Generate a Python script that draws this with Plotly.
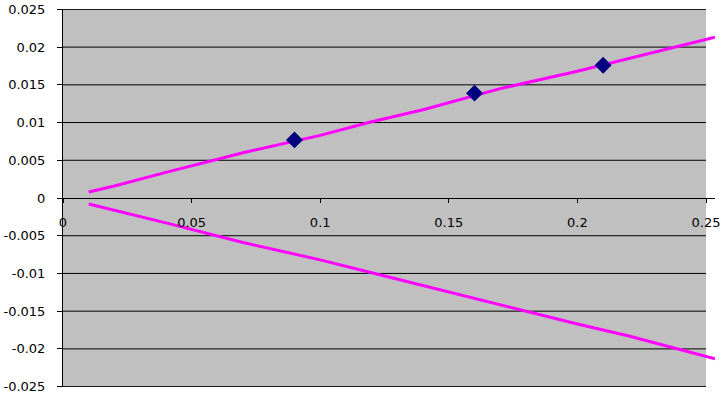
import plotly.graph_objects as go

# Data
band_x = [0.01, 0.02, 0.04, 0.07, 0.10, 0.12, 0.14, 0.17, 0.20, 0.22, 0.2535]
upper_y = [0.0008, 0.0016, 0.0034, 0.0060, 0.0083, 0.0101, 0.0117, 0.0145, 0.0168, 0.0185, 0.0213]
lower_y = [-0.0008, -0.0016, -0.0033, -0.0059, -0.0082, -0.0099, -0.0116, -0.0142, -0.0167, -0.0183, -0.0213]
point_x = [0.09, 0.16, 0.21]
point_y = [0.0077, 0.0139, 0.0176]
x_ticks = [0, 0.05, 0.1, 0.15, 0.2, 0.25]
x_tick_labels = ["0", "0.05", "0.1", "0.15", "0.2", "0.25"]
y_ticks = [0.025, 0.02, 0.015, 0.01, 0.005, 0, -0.005, -0.01, -0.015, -0.02, -0.025]
y_tick_labels = ["0.025", "0.02", "0.015", "0.01", "0.005", "0", "-0.005", "-0.01", "-0.015", "-0.02", "-0.025"]

fig = go.Figure()
fig.add_trace(go.Scatter(x=band_x, y=upper_y, mode="lines",
                         line=dict(color="#FF00FF", width=3), showlegend=False))
fig.add_trace(go.Scatter(x=band_x, y=lower_y, mode="lines",
                         line=dict(color="#FF00FF", width=3), showlegend=False))
fig.add_trace(go.Scatter(x=point_x, y=point_y, mode="markers",
                         marker=dict(symbol="diamond", size=13, color="#000080",
                                     line=dict(width=0)), showlegend=False))

shapes = [dict(type="rect", xref="x", yref="y", x0=x_ticks[0], x1=x_ticks[-1],
               y0=y_ticks[-1], y1=y_ticks[0], fillcolor="#C0C0C0",
               line=dict(width=0), layer="below")]
for yv in y_ticks:
    if yv == 0:
        continue
    shapes.append(dict(type="line", xref="x", yref="y", x0=x_ticks[0], x1=x_ticks[-1],
                       y0=yv, y1=yv, line=dict(color="black", width=1), layer="below"))
fig.update_layout(shapes=shapes)

font = dict(family="DejaVu Sans, Arial, sans-serif", size=13, color="black")
fig.update_layout(
    width=724, height=400,
    margin=dict(l=63, r=9, t=9, b=13),
    paper_bgcolor="white", plot_bgcolor="white",
    font=font,
    xaxis=dict(range=[0, 0.2535], tickvals=x_ticks, ticktext=x_tick_labels,
               showgrid=False, zeroline=False, showline=True, linecolor="black",
               linewidth=1, ticks="outside", ticklen=4, tickcolor="black",
               anchor="free", position=0.5, tickfont=font, automargin=False,
               ticklabelstandoff=8),
    yaxis=dict(range=[-0.02505, 0.02505], tickvals=y_ticks, ticktext=y_tick_labels,
               showgrid=False, zeroline=False, showline=True, linecolor="black",
               linewidth=1, ticks="outside", ticklen=5, tickcolor="black",
               tickfont=font, automargin=False, ticklabelstandoff=9),
)
fig.write_html("out.html", config={"displayModeBar": False},
               post_script="document.body.style.margin='0';")
